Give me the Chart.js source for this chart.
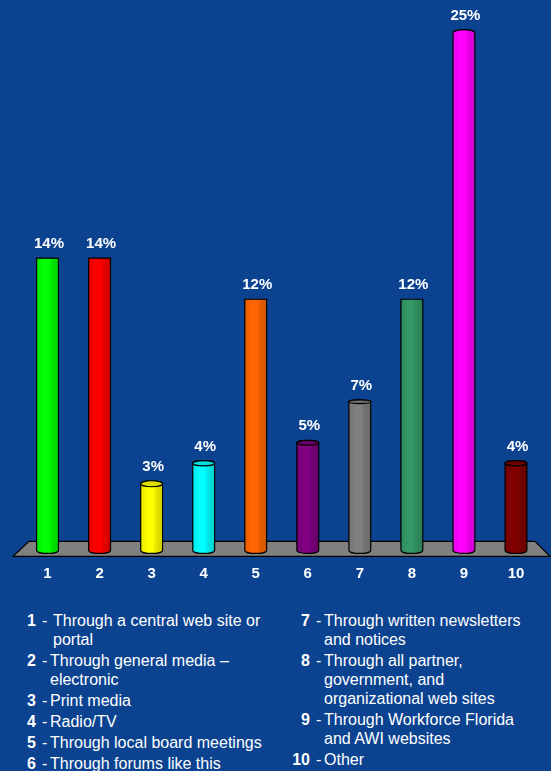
<!DOCTYPE html>
<html>
<head>
<meta charset="utf-8">
<script src="https://cdn.jsdelivr.net/npm/chart.js@4/dist/chart.umd.min.js"></script>
<style>
  html, body { margin: 0; padding: 0; }
  body { width: 551px; height: 771px; background: #0b4391; position: relative; overflow: hidden;
         font-family: "Liberation Sans", Arial, sans-serif; color: #ffffff; }
  #wrap { position: absolute; left: 0; top: 0; width: 551px; height: 597px; }
  .col { position: absolute; top: 610.5px; font-size: 16px; line-height: 19px; }
  .item { display: grid; grid-template-columns: 36px 14px auto; margin-bottom: 2px; }
  .num { text-align: right; font-weight: bold; }
  .dash { padding-left: 6px; }
</style>
</head>
<body>
<div id="wrap"><canvas id="c" width="551" height="597"></canvas></div>
<div class="col" id="legLeft" style="left:0px; width:274px;"></div>
<div class="col" id="legRight" style="left:274px; width:277px;"></div>
<script>
// Answer categories and their shares (%)
const categories = ['1', '2', '3', '4', '5', '6', '7', '8', '9', '10'];
const shares = [14, 14, 3, 4, 12, 5, 7, 12, 25, 4];
const barColors = ['#00ff00', '#ff0000', '#ffff00', '#00ffff', '#ff6600',
                   '#800080', '#808080', '#339966', '#ff00ff', '#800000'];

// Key text, split into the two columns under the chart
const keyLeft = [
  { n: '1', lines: ['Through a central web site or', 'portal'], gap: true },
  { n: '2', lines: ['Through general media \u2013', 'electronic'] },
  { n: '3', lines: ['Print media'] },
  { n: '4', lines: ['Radio/TV'] },
  { n: '5', lines: ['Through local board meetings'] },
  { n: '6', lines: ['Through forums like this'] }
];
const keyRight = [
  { n: '7', lines: ['Through written newsletters', 'and notices'] },
  { n: '8', lines: ['Through all partner,', 'government, and', 'organizational web sites'] },
  { n: '9', lines: ['Through Workforce Florida', 'and AWI websites'] },
  { n: '10', lines: ['Other'] }
];

function buildKey(el, items) {
  items.forEach(it => {
    const row = document.createElement('div');
    row.className = 'item';
    const n = document.createElement('span'); n.className = 'num'; n.textContent = it.n;
    const d = document.createElement('span'); d.className = 'dash'; d.textContent = '-';
    const t = document.createElement('span');
    if (it.gap) t.style.marginLeft = '3px';
    it.lines.forEach((ln, i) => {
      if (i) t.appendChild(document.createElement('br'));
      t.appendChild(document.createTextNode(ln));
    });
    row.append(n, d, t);
    el.appendChild(row);
  });
}
buildKey(document.getElementById('legLeft'), keyLeft);
buildKey(document.getElementById('legRight'), keyRight);

function rgb(hex) {
  const v = parseInt(hex.slice(1), 16);
  return [(v >> 16) & 255, (v >> 8) & 255, v & 255];
}
function shade(hex, f) {
  const [r, g, b] = rgb(hex);
  const c = x => Math.max(0, Math.min(255, Math.round(x * f)));
  return `rgb(${c(r)},${c(g)},${c(b)})`;
}

const EYE_LEVEL = 13;   // value at which the top of a cylinder is seen edge-on

const cylinderPlugin = {
  id: 'cylinders',
  beforeDatasetsDraw(chart) {
    // grey floor under the bars
    const { ctx, chartArea: a } = chart;
    ctx.save();
    ctx.beginPath();
    ctx.moveTo(a.left + 7.5, a.bottom - 9);
    ctx.lineTo(a.right - 7, a.bottom - 9);
    ctx.lineTo(a.right + 8, a.bottom + 6);
    ctx.lineTo(a.left - 8.5, a.bottom + 6);
    ctx.closePath();
    ctx.fillStyle = '#808080';
    ctx.fill();
    ctx.lineWidth = 1.2;
    ctx.strokeStyle = '#000000';
    ctx.stroke();
    ctx.restore();
  },
  afterDatasetsDraw(chart) {
    const { ctx } = chart;
    const meta = chart.getDatasetMeta(0);
    const data = chart.data.datasets[0].data;
    ctx.save();
    meta.data.forEach((el, i) => {
      const { x, y, base, width } = el.getProps(['x', 'y', 'base', 'width'], true);
      const v = data[i];
      const col = barColors[i];
      const rx = width / 2;
      const left = x - rx, right = x + rx;
      let ryTop = Math.max(-3, Math.min(3.3, 0.3 * (EYE_LEVEL - v)));
      if (v >= 12 && v <= 14) ryTop = 0;
      const ryBot = 3;

      const grad = ctx.createLinearGradient(left, 0, right, 0);
      grad.addColorStop(0, shade(col, 0.9));
      grad.addColorStop(0.3, shade(col, 1.0));
      grad.addColorStop(0.55, shade(col, 1.0));
      grad.addColorStop(0.7, shade(col, 0.9));
      grad.addColorStop(1, shade(col, 0.82));

      ctx.beginPath();
      ctx.moveTo(left, y);
      ctx.lineTo(left, base);
      ctx.ellipse(x, base, rx, ryBot, 0, Math.PI, 0, true);
      ctx.lineTo(right, y);
      ctx.ellipse(x, y, rx, Math.abs(ryTop), 0, 0, Math.PI, true);
      ctx.closePath();
      ctx.fillStyle = grad;
      ctx.fill();
      ctx.lineWidth = 1.2;
      ctx.strokeStyle = '#000000';
      ctx.stroke();

      if (ryTop > 0.3) {
        ctx.beginPath();
        ctx.ellipse(x, y, rx, ryTop, 0, 0, Math.PI * 2);
        ctx.fillStyle = shade(col, 0.87);
        ctx.fill();
        ctx.stroke();
      }

      ctx.fillStyle = '#ffffff';
      ctx.font = 'bold 15px "Liberation Sans", Arial, sans-serif';
      ctx.textAlign = 'center';
      ctx.textBaseline = 'alphabetic';
      ctx.fillText(v + '%', x + 1.5, y - Math.abs(ryTop) - 10);
    });
    ctx.restore();
  }
};

new Chart(document.getElementById('c'), {
  type: 'bar',
  data: {
    labels: categories,
    datasets: [{
      data: shares,
      backgroundColor: 'rgba(0,0,0,0)',
      borderWidth: 0,
      base: -0.25,
      barPercentage: 0.42,
      categoryPercentage: 1.0
    }]
  },
  options: {
    responsive: false,
    animation: false,
    events: [],
    layout: { padding: { top: 5, left: 21.5, right: 9, bottom: 0 } },
    plugins: { legend: { display: false }, tooltip: { enabled: false } },
    scales: {
      x: {
        grid: { display: false, drawTicks: false },
        border: { display: false },
        ticks: {
          color: '#ffffff',
          padding: 14.3,
          font: { family: '"Liberation Sans", Arial, sans-serif', size: 15, weight: 'bold' }
        }
      },
      y: { display: false, min: -0.25, max: 26.35 }
    }
  },
  plugins: [cylinderPlugin]
});
</script>
</body>
</html>
